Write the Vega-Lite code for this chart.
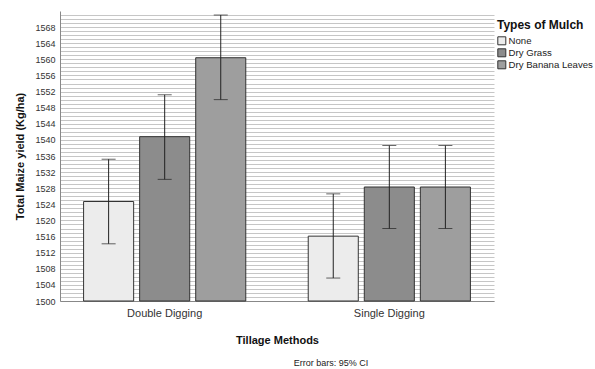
{
  "$schema": "https://vega.github.io/schema/vega-lite/v6.json",
  "width": 434,
  "height": 290,
  "autosize": {"type": "none"},
  "padding": {"left": 60, "top": 11, "right": 101, "bottom": 68},
  "background": "white",
  "config": {"view": {"stroke": null}, "font": "Liberation Sans",
    "axisY": {
      "labelExpr": "datum.value % 4 === 0 ? datum.label : ''",
      "format": "d",
      "labelOverlap": false,
      "labelBound": false,
      "grid": true, "gridColor": "#c6c6c6", "gridWidth": 1,
      "ticks": false, "labelPadding": 5, "labelFontSize": 9, "labelColor": "#333",
      "domainColor": "#888",
      "titleFontSize": 11, "titleFontWeight": "bold", "titleColor": "#111", "titlePadding": 9
    }
  },
  "title": {"text": "Error bars: 95% CI", "orient": "bottom", "fontSize": 9, "fontWeight": "normal", "color": "#222", "anchor": "middle", "dx": 54, "offset": 14, "font": "Liberation Sans"},
  "data": {"values": [
    {"tillage": "Double Digging", "mulch": "None", "mean": 1524.7, "lo": 1514.2, "hi": 1535.2},
    {"tillage": "Double Digging", "mulch": "Dry Grass", "mean": 1540.8, "lo": 1530.2, "hi": 1551.2},
    {"tillage": "Double Digging", "mulch": "Dry Banana Leaves", "mean": 1560.4, "lo": 1550.0, "hi": 1571.0},
    {"tillage": "Single Digging", "mulch": "None", "mean": 1516.1, "lo": 1505.7, "hi": 1526.6},
    {"tillage": "Single Digging", "mulch": "Dry Grass", "mean": 1528.3, "lo": 1518.0, "hi": 1538.6},
    {"tillage": "Single Digging", "mulch": "Dry Banana Leaves", "mean": 1528.3, "lo": 1518.0, "hi": 1538.6}
  ]},
  "encoding": {
    "x": {"field": "tillage", "type": "nominal", "title": "Tillage Methods",
      "scale": {"paddingInner": 0.278, "paddingOuter": 0.105},
      "axis": {"labelAngle": 0, "labelFontSize": 11, "labelColor": "#333", "ticks": false, "labelPadding": 6, "domainColor": "#888", "titleFontSize": 11, "titleFontWeight": "bold", "titleColor": "#111", "titlePadding": 16}},
    "xOffset": {"field": "mulch", "type": "nominal", "sort": ["None", "Dry Grass", "Dry Banana Leaves"], "scale": {"paddingInner": 0.107, "paddingOuter": 0}}
  },
  "layer": [
    {
      "mark": {"type": "bar", "stroke": "#333", "strokeWidth": 1},
      "encoding": {
        "y": {"field": "mean", "type": "quantitative", "title": "Total Maize yield (Kg/ha)",
          "scale": {"domain": [1500, 1572], "nice": false, "zero": false},
          "axis": {"values": [1500,1501,1502,1503,1504,1505,1506,1507,1508,1509,1510,1511,1512,1513,1514,1515,1516,1517,1518,1519,1520,1521,1522,1523,1524,1525,1526,1527,1528,1529,1530,1531,1532,1533,1534,1535,1536,1537,1538,1539,1540,1541,1542,1543,1544,1545,1546,1547,1548,1549,1550,1551,1552,1553,1554,1555,1556,1557,1558,1559,1560,1561,1562,1563,1564,1565,1566,1567,1568,1569,1570,1571]}},
        "y2": {"datum": 1500},
        "fill": {"field": "mulch", "type": "nominal", "title": "Types of Mulch",
          "sort": ["None", "Dry Grass", "Dry Banana Leaves"],
          "scale": {"domain": ["None", "Dry Grass", "Dry Banana Leaves"], "range": ["#ececec", "#8c8c8c", "#9e9e9e"]},
          "legend": {"orient": "none", "legendX": 437, "legendY": 9, "titleFontSize": 12, "titleFontWeight": "bold", "titleColor": "#111", "labelFontSize": 9.6, "labelColor": "#222", "symbolType": "square", "symbolSize": 64, "symbolStrokeColor": "#333", "symbolStrokeWidth": 1, "rowPadding": -1, "labelOffset": 2, "titlePadding": 4}
        }
      }
    },
    {
      "mark": {"type": "rule", "color": "#222", "strokeWidth": 1},
      "encoding": {"y": {"field": "lo", "type": "quantitative", "title": "Total Maize yield (Kg/ha)",
          "axis": {"values": [1500,1501,1502,1503,1504,1505,1506,1507,1508,1509,1510,1511,1512,1513,1514,1515,1516,1517,1518,1519,1520,1521,1522,1523,1524,1525,1526,1527,1528,1529,1530,1531,1532,1533,1534,1535,1536,1537,1538,1539,1540,1541,1542,1543,1544,1545,1546,1547,1548,1549,1550,1551,1552,1553,1554,1555,1556,1557,1558,1559,1560,1561,1562,1563,1564,1565,1566,1567,1568,1569,1570,1571]}},
        "y2": {"field": "hi"}}
    },
    {
      "mark": {"type": "tick", "color": "#222", "thickness": 1, "size": 14},
      "encoding": {"y": {"field": "lo", "type": "quantitative", "title": "Total Maize yield (Kg/ha)",
          "axis": {"values": [1500,1501,1502,1503,1504,1505,1506,1507,1508,1509,1510,1511,1512,1513,1514,1515,1516,1517,1518,1519,1520,1521,1522,1523,1524,1525,1526,1527,1528,1529,1530,1531,1532,1533,1534,1535,1536,1537,1538,1539,1540,1541,1542,1543,1544,1545,1546,1547,1548,1549,1550,1551,1552,1553,1554,1555,1556,1557,1558,1559,1560,1561,1562,1563,1564,1565,1566,1567,1568,1569,1570,1571]}}}
    },
    {
      "mark": {"type": "tick", "color": "#222", "thickness": 1, "size": 14},
      "encoding": {"y": {"field": "hi", "type": "quantitative", "title": "Total Maize yield (Kg/ha)",
          "axis": {"values": [1500,1501,1502,1503,1504,1505,1506,1507,1508,1509,1510,1511,1512,1513,1514,1515,1516,1517,1518,1519,1520,1521,1522,1523,1524,1525,1526,1527,1528,1529,1530,1531,1532,1533,1534,1535,1536,1537,1538,1539,1540,1541,1542,1543,1544,1545,1546,1547,1548,1549,1550,1551,1552,1553,1554,1555,1556,1557,1558,1559,1560,1561,1562,1563,1564,1565,1566,1567,1568,1569,1570,1571]}}}
    }
  ]
}
